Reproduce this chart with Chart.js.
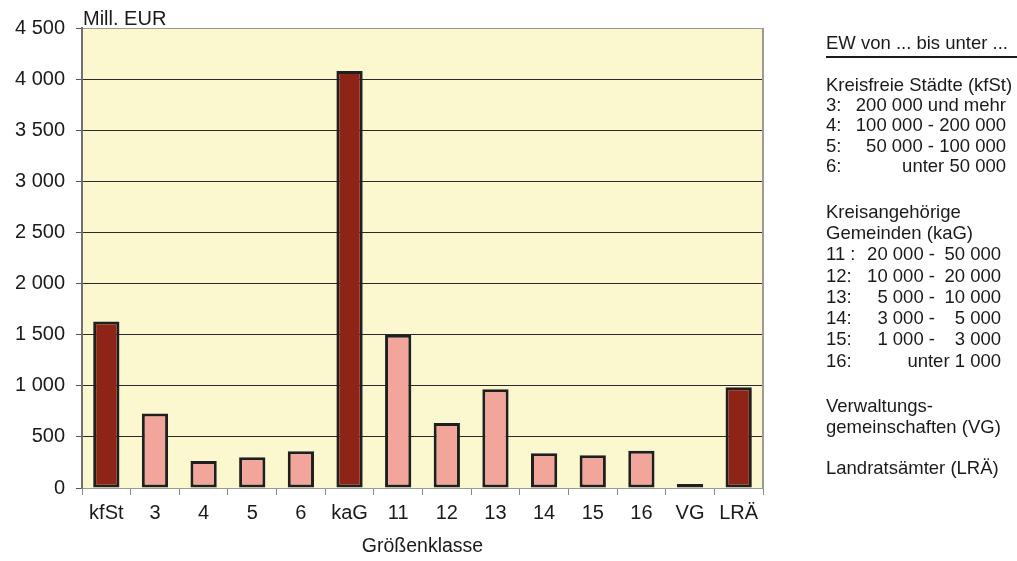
<!DOCTYPE html>
<html>
<head>
<meta charset="utf-8">
<script src="https://cdn.jsdelivr.net/npm/chart.js@4.4.1/dist/chart.umd.min.js"></script>
<style>
  html, body { margin: 0; padding: 0; background: #ffffff; }
  #wrap { width: 1017px; height: 561px; position: relative; }
</style>
</head>
<body>
<div id="wrap"><canvas id="c" width="1017" height="561"></canvas></div>
<script>
// ---- data ----
const categories = ['kfSt', '3', '4', '5', '6', 'kaG', '11', '12', '13', '14', '15', '16', 'VG', 'LRÄ'];
const values = [1630, 728, 265, 300, 360, 4080, 1500, 635, 965, 340, 320, 365, 38, 985];
const totalGroups = ['kfSt', 'kaG', 'VG', 'LRÄ'];
const yTicks = [0, 500, 1000, 1500, 2000, 2500, 3000, 3500, 4000, 4500];
const yUnit = 'Mill. EUR';
const xTitle = 'Größenklasse';
const legendHead = 'EW von ... bis unter ...';
const legendKfSt = [['3:', '', '200 000 und mehr'], ['4:', '', '100 000 - 200 000'], ['5:', '', '50 000 - 100 000'], ['6:', '', 'unter 50 000']];
const legendKaG = [['11 :', '20 000 -', '50 000'], ['12:', '10 000 -', '20 000'], ['13:', '5 000 -', '10 000'], ['14:', '3 000 -', '5 000'], ['15:', '1 000 -', '3 000'], ['16:', '', 'unter 1 000']];

const DARK = '#8E2318';
const LIGHT = '#F2A69B';
const TXT = '#1a1a1a';
const FONT = "'Liberation Sans', Arial, sans-serif";

function fmt(v) {
  return String(v).replace(/\B(?=(\d{3})+(?!\d))/g, ' ');
}

const decor = {
  id: 'decor',
  beforeDraw(chart) {
    const { ctx, chartArea: a } = chart;
    ctx.save();
    ctx.fillStyle = '#FBF7CF';
    ctx.fillRect(a.left, a.top, a.right - a.left, a.bottom - a.top);
    ctx.restore();
  },
  afterDraw(chart) {
    const { ctx, chartArea: a } = chart;
    ctx.save();
    ctx.strokeStyle = '#9a9a9a';
    ctx.lineWidth = 2;
    ctx.beginPath();
    ctx.moveTo(a.right, a.top);
    ctx.lineTo(a.right, a.bottom);
    ctx.stroke();
    ctx.fillStyle = TXT;
    ctx.font = '20px ' + FONT;
    ctx.textBaseline = 'alphabetic';
    ctx.textAlign = 'left';
    ctx.fillText(yUnit, 83, 25);
    ctx.font = '18.5px ' + FONT;
    ctx.textBaseline = 'middle';
    const L = 826;
    ctx.fillText(legendHead, L, 44);
    ctx.fillRect(826, 56, 191, 2);
    ctx.fillText('Kreisfreie Städte (kfSt)', L, 86);
    const yK = [106, 126, 147, 167];
    legendKfSt.forEach((r, i) => {
      ctx.textAlign = 'left';
      ctx.fillText(r[0], L, yK[i]);
      ctx.textAlign = 'right';
      ctx.fillText(r[2], 1006, yK[i]);
    });
    ctx.textAlign = 'left';
    ctx.fillText('Kreisangehörige', L, 213);
    ctx.fillText('Gemeinden (kaG)', L, 234);
    const yG = [255, 277, 298, 319, 340, 362];
    legendKaG.forEach((r, i) => {
      ctx.textAlign = 'left';
      ctx.fillText(r[0], L, yG[i]);
      ctx.textAlign = 'right';
      if (r[1]) ctx.fillText(r[1], 935, yG[i]);
      ctx.fillText(r[2], 1001, yG[i]);
    });
    ctx.textAlign = 'left';
    ctx.fillText('Verwaltungs-', L, 407);
    ctx.fillText('gemeinschaften (VG)', L, 428);
    ctx.fillText('Landratsämter (LRÄ)', L, 469);
    ctx.restore();
  }
};

new Chart(document.getElementById('c'), {
  type: 'bar',
  data: {
    labels: categories,
    datasets: [{
      data: values,
      backgroundColor: categories.map(c => totalGroups.includes(c) ? DARK : LIGHT),
      borderColor: '#1f1f1f',
      borderWidth: 3,
      borderSkipped: false,
      categoryPercentage: 1,
      barPercentage: 0.54
    }]
  },
  options: {
    responsive: false,
    devicePixelRatio: 1,
    animation: false,
    layout: { padding: { left: 0, top: 28, right: 254, bottom: 0 } },
    plugins: { legend: { display: false }, tooltip: { enabled: false } },
    scales: {
      x: {
        grid: { offset: true, drawOnChartArea: false, drawTicks: true, tickLength: 7, color: '#8a8a8a', lineWidth: 1 },
        border: { color: '#9a9a9a', width: 1 },
        ticks: { font: { size: 20, family: FONT }, color: TXT, padding: 6, maxRotation: 0, autoSkip: false },
        title: { display: true, text: xTitle, font: { size: 19.5, family: FONT }, color: TXT, padding: { top: 0, bottom: 3 } },
        afterFit(s) { s.height = 73; }
      },
      y: {
        min: 0,
        max: 4500,
        afterBuildTicks(s) { s.ticks = yTicks.map(v => ({ value: v })); },
        ticks: { font: { size: 20, family: FONT }, color: TXT, padding: 11, callback: v => fmt(v) },
        grid: {
          color: ctx => (ctx.tick && (ctx.tick.value === 4500 || ctx.tick.value === 0)) ? '#9a9a9a' : '#2a2a2a',
          lineWidth: 1,
          tickLength: 6,
          tickColor: '#555'
        },
        border: { color: '#707070', width: 2 },
        afterFit(s) { s.width = 82; }
      }
    }
  },
  plugins: [decor]
});
</script>
</body>
</html>
